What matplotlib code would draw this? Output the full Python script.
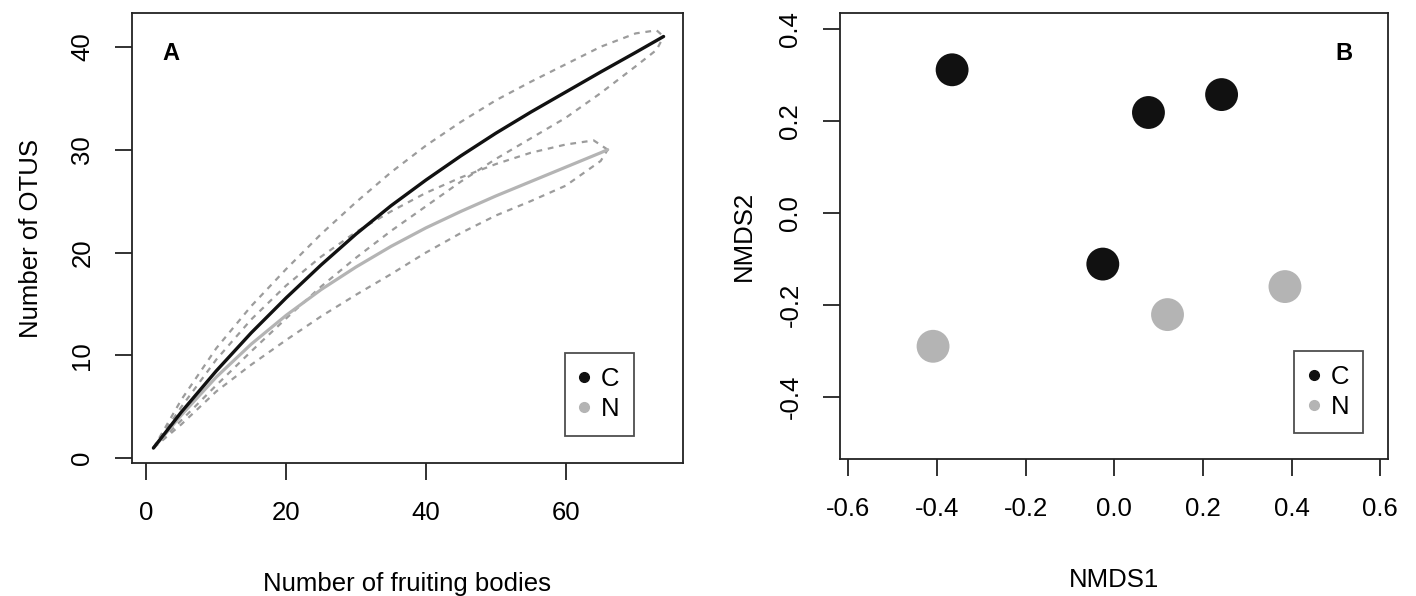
import matplotlib
matplotlib.use("Agg")
import matplotlib.pyplot as plt
from matplotlib.lines import Line2D

plt.rcParams['font.family'] = ['Liberation Sans', 'DejaVu Sans']
plt.rcParams['axes.unicode_minus'] = False

# Panel A: rarefaction curves (number of OTUs vs fruiting bodies)
c_x = [1, 5, 10, 15, 20, 25, 30, 35, 40, 45, 50, 55, 60, 65, 70, 74]
c_mean = [1.0, 4.5, 8.5, 12.2, 15.6, 18.8, 21.8, 24.55, 27.05, 29.4, 31.6, 33.65, 35.6, 37.55, 39.45, 41.0]

c_up_x = [1, 5, 10, 15, 20, 25, 30, 35, 40, 45, 50, 55, 60, 65, 70, 73, 74]
c_upper = [1.0, 5.7, 10.7, 14.8, 18.4, 21.8, 24.9, 27.8, 30.4, 32.7, 34.8, 36.6, 38.3, 40.0, 41.3, 41.6, 41.0]
c_lo_x = [1, 5, 10, 15, 20, 25, 30, 35, 40, 45, 50, 55, 60, 65, 70, 73, 74]
c_lower = [1.0, 3.7, 7.1, 10.4, 13.6, 16.7, 19.5, 22.1, 24.5, 26.9, 29.1, 31.1, 33.1, 35.5, 38.1, 39.7, 41.0]

n_x = [1, 5, 10, 15, 20, 25, 30, 35, 40, 45, 50, 55, 60, 65, 66]
n_mean = [1.0, 4.2, 7.9, 11.1, 13.9, 16.4, 18.6, 20.6, 22.4, 24.0, 25.5, 26.9, 28.3, 29.7, 30.0]
n_up_x = [1, 5, 10, 15, 20, 25, 30, 35, 40, 45, 50, 55, 60, 64, 66]
n_upper = [1.0, 5.0, 9.6, 13.5, 16.8, 19.6, 22.0, 24.0, 25.8, 27.3, 28.6, 29.7, 30.5, 30.9, 30.0]
n_lo_x = [1, 5, 10, 15, 20, 25, 30, 35, 40, 45, 50, 55, 60, 65, 66]
n_lower = [1.0, 3.3, 6.5, 9.1, 11.5, 13.8, 15.9, 17.9, 20.0, 21.9, 23.6, 25.0, 26.5, 28.9, 30.0]

# Panel B: NMDS ordination
c_nmds1 = [-0.366, 0.077, 0.242, -0.026]
c_nmds2 = [0.312, 0.219, 0.258, -0.111]
n_nmds1 = [-0.409, 0.120, 0.385]
n_nmds2 = [-0.290, -0.221, -0.160]

groups = ['C', 'N']
col_c = '#111111'
col_n = '#b4b4b4'
col_ci = '#9c9c9c'
fs = 18.5

fig = plt.figure(figsize=(14.16, 5.96), dpi=100)
ax1 = fig.add_axes([0.0932, 0.2226, 0.389, 0.755])
ax2 = fig.add_axes([0.5932, 0.2294, 0.3872, 0.7483])

ci = dict(color=col_ci, lw=1.6, dashes=(2.6, 2.6))
ax1.plot(c_up_x, c_upper, **ci)
ax1.plot(c_lo_x, c_lower, **ci)
ax1.plot(n_up_x, n_upper, **ci)
ax1.plot(n_lo_x, n_lower, **ci)
ax1.plot(n_x, n_mean, color=col_n, lw=2.3, solid_capstyle='round', solid_joinstyle='round')
ax1.plot(c_x, c_mean, color=col_c, lw=2.4, solid_capstyle='round', solid_joinstyle='round')
ax1.set_xlim(-2.07, 76.75)
ax1.set_ylim(-0.49, 43.25)
ax1.set_xticks([0, 20, 40, 60])
ax1.set_yticks([0, 10, 20, 30, 40])
ax1.set_xlabel('Number of fruiting bodies', fontsize=fs, labelpad=34)
ax1.set_ylabel('Number of OTUS', fontsize=fs, labelpad=20)
ax1.text(0.07, 0.91, 'A', transform=ax1.transAxes, fontsize=17,
         fontweight='bold', ha='center', va='center')

ax2.scatter(c_nmds1, c_nmds2, s=560, color=col_c, edgecolors='none', zorder=3)
ax2.scatter(n_nmds1, n_nmds2, s=560, color=col_n, edgecolors='none', zorder=3)
ax2.set_xlim(-0.619, 0.618)
ax2.set_ylim(-0.536, 0.435)
ax2.set_xticks([-0.6, -0.4, -0.2, 0.0, 0.2, 0.4, 0.6])
ax2.set_yticks([-0.4, -0.2, 0.0, 0.2, 0.4])
ax2.set_xticklabels(['%.1f' % v for v in ax2.get_xticks()])
ax2.set_yticklabels(['%.1f' % v for v in ax2.get_yticks()])
ax2.set_xlabel('NMDS1', fontsize=fs, labelpad=34)
ax2.set_ylabel('NMDS2', fontsize=fs, labelpad=16)
ax2.text(0.92, 0.91, 'B', transform=ax2.transAxes, fontsize=17,
         fontweight='bold', ha='center', va='center')

handles = [Line2D([], [], ls='none', marker='o', ms=7, color=col_c),
           Line2D([], [], ls='none', marker='o', ms=7, color=col_n)]

for ax, anchor in [(ax1, (0.786, 0.2444)), (ax2, (0.829, 0.2435))]:
    for s in ax.spines.values():
        s.set_linewidth(1.3)
        s.set_color('#222222')
    ax.tick_params(direction='out', length=12, width=1.3, color='#222222',
                   labelsize=fs, pad=15)
    ax.tick_params(axis='y', labelrotation=90)
    for t in ax.get_yticklabels():
        t.set_va('center')
    leg = ax.legend(handles, groups, loc='upper left', bbox_to_anchor=anchor,
                    frameon=True, fancybox=False, fontsize=fs,
                    handlelength=0.39, handletextpad=0.47, borderpad=0.55,
                    labelspacing=0.23, borderaxespad=0)
    leg.get_frame().set_edgecolor('#222222')
    leg.get_frame().set_linewidth(1.3)

fig.savefig('out.png', dpi=100)
